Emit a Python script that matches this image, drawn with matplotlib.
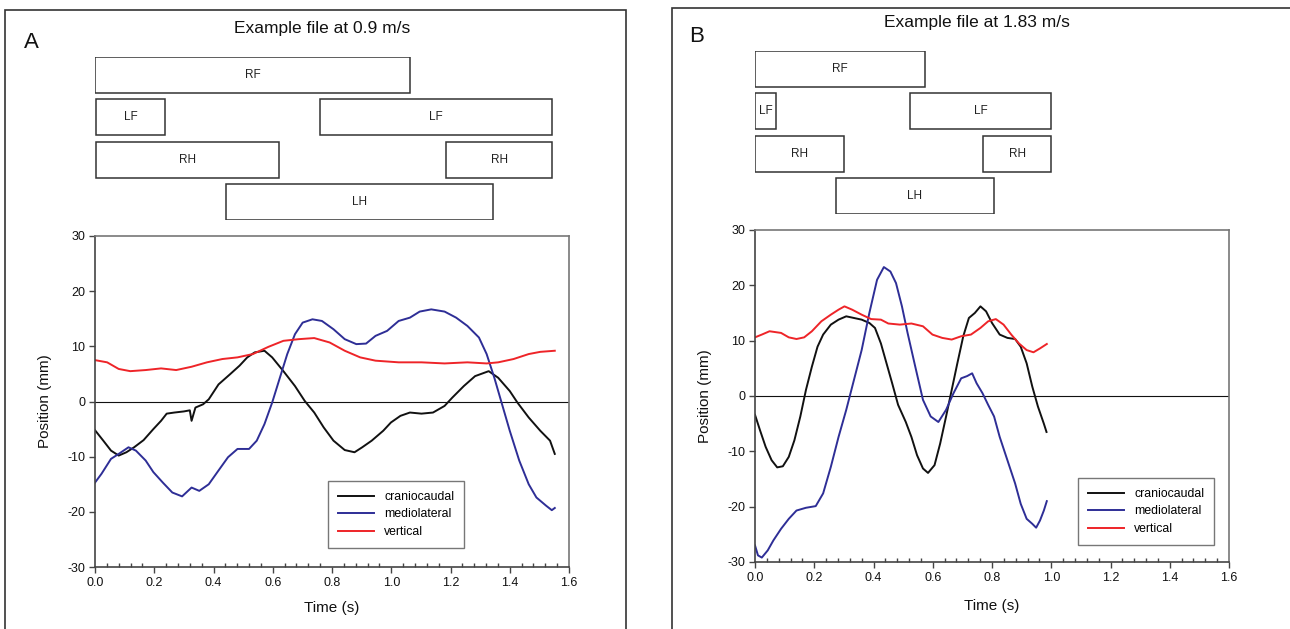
import matplotlib
matplotlib.use("Agg")
import matplotlib.pyplot as plt
from matplotlib.patches import Rectangle
from matplotlib.ticker import MultipleLocator, FormatStrFormatter

plt.rcParams['font.family'] = ['Liberation Sans', 'DejaVu Sans']
plt.rcParams['axes.unicode_minus'] = False

# ---------------- Panel A data (0.9 m/s) ----------------
a_cc_t = [0, 0.028, 0.054, 0.08, 0.106, 0.132, 0.164, 0.197, 0.223, 0.242, 0.268, 0.30, 0.32, 0.326,
          0.339, 0.365, 0.384, 0.417, 0.455, 0.488, 0.514, 0.539, 0.572, 0.598, 0.636, 0.675, 0.708,
          0.74, 0.772, 0.805, 0.843, 0.876, 0.902, 0.934, 0.973, 0.999, 1.031, 1.063, 1.102, 1.141,
          1.18, 1.206, 1.245, 1.283, 1.329, 1.361, 1.40, 1.426, 1.464, 1.503, 1.536, 1.552]
a_cc_y = [-5.2, -7.1, -8.9, -9.8, -9.2, -8.3, -7.0, -5.0, -3.5, -2.2, -2.0, -1.8, -1.6, -3.5,
          -1.1, -0.5, 0.4, 3.1, 4.9, 6.5, 8.0, 8.9, 9.2, 8.0, 5.5, 2.8, 0.1,
          -2.0, -4.7, -7.1, -8.8, -9.2, -8.3, -7.1, -5.3, -3.8, -2.6, -2.0, -2.2, -2.0,
          -0.8, 0.7, 2.8, 4.6, 5.5, 4.3, 1.9, -0.2, -2.9, -5.3, -7.1, -9.5]

a_ml_t = [0, 0.022, 0.054, 0.08, 0.113, 0.138, 0.171, 0.197, 0.229, 0.261, 0.294, 0.326, 0.352,
          0.384, 0.417, 0.449, 0.481, 0.52, 0.546, 0.572, 0.598, 0.624, 0.649, 0.675, 0.701, 0.734,
          0.766, 0.805, 0.843, 0.882, 0.915, 0.947, 0.986, 1.025, 1.063, 1.096, 1.135, 1.18, 1.219,
          1.257, 1.296, 1.322, 1.348, 1.374, 1.40, 1.432, 1.464, 1.49, 1.523, 1.542, 1.552]
a_ml_y = [-14.7, -13.1, -10.4, -9.5, -8.3, -8.9, -10.7, -12.8, -14.7, -16.5, -17.2, -15.6, -16.2,
          -15.0, -12.5, -10.1, -8.6, -8.6, -7.1, -4.1, -0.2, 4.3, 8.6, 12.2, 14.3, 14.9,
          14.6, 13.1, 11.3, 10.4, 10.5, 11.9, 12.8, 14.6, 15.2, 16.3, 16.7, 16.3, 15.2,
          13.7, 11.6, 8.6, 4.3, -0.5, -5.3, -10.7, -15.0, -17.4, -18.9, -19.7, -19.3]

a_v_t = [0, 0.041, 0.08, 0.119, 0.171, 0.223, 0.274, 0.326, 0.378, 0.43, 0.481, 0.533, 0.585,
         0.636, 0.688, 0.74, 0.792, 0.843, 0.895, 0.947, 1.025, 1.102, 1.18, 1.257, 1.322, 1.361,
         1.413, 1.464, 1.503, 1.552]
a_v_y = [7.5, 7.1, 5.9, 5.5, 5.7, 6.0, 5.7, 6.3, 7.1, 7.7, 8.0, 8.6, 9.9,
         11.0, 11.3, 11.5, 10.7, 9.2, 8.0, 7.4, 7.1, 7.1, 6.9, 7.1, 6.9, 7.1,
         7.7, 8.6, 9.0, 9.2]

# ---------------- Panel B data (1.83 m/s) ----------------
b_cc_t = [0, 0.017, 0.036, 0.056, 0.075, 0.094, 0.114, 0.133, 0.153, 0.172, 0.192, 0.211, 0.23,
          0.256, 0.282, 0.308, 0.334, 0.36, 0.386, 0.405, 0.425, 0.444, 0.463, 0.483, 0.509, 0.528,
          0.547, 0.567, 0.584, 0.606, 0.625, 0.645, 0.664, 0.683, 0.703, 0.722, 0.742, 0.761, 0.78,
          0.80, 0.826, 0.852, 0.878, 0.897, 0.917, 0.936, 0.955, 0.975, 0.984]
b_cc_y = [-3.4, -6.2, -9.2, -11.6, -12.9, -12.7, -11.0, -8.0, -3.7, 1.1, 5.3, 8.9, 11.1,
          12.9, 13.8, 14.4, 14.1, 13.8, 13.2, 12.3, 9.5, 5.9, 2.3, -1.6, -4.7, -7.4,
          -10.7, -13.1, -13.9, -12.5, -8.6, -3.7, 1.1, 5.9, 10.8, 14.1, 15.0, 16.2, 15.3,
          13.2, 11.1, 10.5, 10.3, 8.9, 5.9, 1.7, -1.9, -5.0, -6.5]

b_ml_t = [0, 0.01, 0.023, 0.043, 0.062, 0.088, 0.114, 0.14, 0.172, 0.205, 0.23, 0.256, 0.282,
          0.308, 0.334, 0.36, 0.386, 0.412, 0.435, 0.457, 0.476, 0.496, 0.515, 0.541, 0.567, 0.593,
          0.619, 0.645, 0.67, 0.696, 0.716, 0.733, 0.748, 0.768, 0.787, 0.807, 0.826, 0.852, 0.878,
          0.897, 0.917, 0.936, 0.949, 0.962, 0.975, 0.985]
b_ml_y = [-27.0, -28.8, -29.2, -27.9, -26.1, -24.0, -22.2, -20.7, -20.2, -19.9, -17.6, -12.8, -7.4,
          -2.5, 2.9, 8.3, 15.0, 21.0, 23.3, 22.5, 20.4, 16.2, 11.4, 5.3, -0.7, -3.7,
          -4.7, -2.5, 0.5, 3.2, 3.6, 4.1, 2.3, 0.5, -1.6, -3.7, -7.4, -11.6, -15.8,
          -19.5, -22.2, -23.1, -23.8, -22.5, -20.7, -19.0]

b_v_t = [0, 0.023, 0.049, 0.088, 0.114, 0.14, 0.166, 0.192, 0.224, 0.256, 0.282, 0.302, 0.328,
         0.36, 0.392, 0.425, 0.45, 0.489, 0.528, 0.567, 0.599, 0.632, 0.664, 0.696, 0.729, 0.761,
         0.787, 0.813, 0.839, 0.865, 0.891, 0.917, 0.94, 0.962, 0.985]
b_v_y = [10.6, 11.1, 11.7, 11.4, 10.6, 10.3, 10.6, 11.7, 13.5, 14.7, 15.6, 16.2, 15.6,
         14.7, 13.9, 13.8, 13.1, 12.9, 13.1, 12.6, 11.1, 10.5, 10.2, 10.8, 11.1, 12.3,
         13.5, 13.9, 12.9, 11.1, 9.5, 8.3, 7.9, 8.6, 9.4]

# ---------------- Footfall (stance) intervals, seconds ----------------
limb_rows = ['RF', 'LF', 'RH', 'LH']
a_stance = {'RF': [(0.0, 1.063)],
            'LF': [(0.003, 0.236), (0.759, 1.543)],
            'RH': [(0.003, 0.621), (1.185, 1.543)],
            'LH': [(0.442, 1.343)]}
b_stance = {'RF': [(0.0, 0.574)],
            'LF': [(0.0, 0.071), (0.523, 0.999)],
            'RH': [(0.0, 0.30), (0.77, 0.999)],
            'LH': [(0.273, 0.807)]}

series_labels = ['craniocaudal', 'mediolateral', 'vertical']
series_colors = ['#111111', '#2e2e96', '#ee2428']
x_ticks = [0.0, 0.2, 0.4, 0.6, 0.8, 1.0, 1.2, 1.4, 1.6]
y_ticks = [-30, -20, -10, 0, 10, 20, 30]

W, H = 1290, 629
fig = plt.figure(figsize=(W / 100, H / 100), dpi=100)


def fx(px):
    return px / W


def fy(py):
    return 1 - py / H


panels = [
    dict(frame=(5, 10, 626, 640), letter='A', letter_xy=(31, 43),
         title='Example file at 0.9 m/s', title_xy=(322, 29),
         ax=(95, 236, 569, 567), gait=(57, 220),
         data=[(a_cc_t, a_cc_y), (a_ml_t, a_ml_y), (a_v_t, a_v_y)],
         stance=a_stance, leg=(328, 481), ylab_x=52, xlab_y=601),
    dict(frame=(672, 8, 1300, 640), letter='B', letter_xy=(697, 37),
         title='Example file at 1.83 m/s', title_xy=(977, 22),
         ax=(755, 230, 1229, 562), gait=(51, 214),
         data=[(b_cc_t, b_cc_y), (b_ml_t, b_ml_y), (b_v_t, b_v_y)],
         stance=b_stance, leg=(1078, 478), ylab_x=712, xlab_y=599),
]

for p in panels:
    x0, y0, x1, y1 = p['frame']
    fig.patches.append(Rectangle((fx(x0), fy(y1)), fx(x1 - x0), (y1 - y0) / H,
                                 transform=fig.transFigure, fill=False,
                                 edgecolor='#333333', linewidth=1.2, zorder=0))
    fig.text(fx(p['letter_xy'][0]), fy(p['letter_xy'][1]), p['letter'],
             fontsize=16, ha='center', va='center', color='#111111')
    fig.text(fx(p['title_xy'][0]), fy(p['title_xy'][1]), p['title'],
             fontsize=12.5, ha='center', va='center', color='#111111')

    l, t, r, b = p['ax']
    ax = fig.add_axes([fx(l), fy(b), fx(r - l), (b - t) / H])
    for (tt, yy), c, lab in zip(p['data'], series_colors, series_labels):
        ax.plot(tt, yy, color=c, lw=1.4, label=lab)
    ax.axhline(0, color='#111111', lw=0.8, zorder=1)
    ax.set_xlim(0, 1.6)
    ax.set_ylim(-30, 30)
    ax.set_xticks(x_ticks)
    ax.xaxis.set_major_formatter(FormatStrFormatter('%.1f'))
    ax.xaxis.set_minor_locator(MultipleLocator(0.04))
    ax.set_yticks(y_ticks)
    ax.tick_params(axis='both', which='major', direction='out', length=4,
                   width=1, color='#444444', labelsize=9, labelcolor='#111111', pad=3)
    ax.tick_params(axis='x', which='minor', direction='in', length=3, width=1, color='#444444')
    for s in ['left', 'bottom']:
        ax.spines[s].set_color('#444444')
        ax.spines[s].set_linewidth(1.2)
    for s in ['top', 'right']:
        ax.spines[s].set_color('#777777')
        ax.spines[s].set_linewidth(1.2)
    ax.set_xlabel('Time (s)', fontsize=11, color='#111111')
    ax.xaxis.set_label_coords(0.5, (b - p['xlab_y']) / (b - t), transform=ax.transAxes)
    ax.set_ylabel('Position (mm)', fontsize=11, color='#111111')
    ax.yaxis.set_label_coords((p['ylab_x'] - l) / (r - l), 0.5, transform=ax.transAxes)

    lx, ly = p['leg']
    leg = ax.legend(loc='upper left',
                    bbox_to_anchor=((lx - l) / (r - l), (b - ly) / (b - t)),
                    fontsize=8.8, frameon=True, fancybox=False, handlelength=3.0,
                    handletextpad=0.8, labelspacing=0.45, borderpad=0.8,
                    borderaxespad=0, edgecolor='#555555')
    leg.get_frame().set_linewidth(1.0)

    g0, g1 = p['gait']
    gax = fig.add_axes([fx(l), fy(g1), fx(r - l), (g1 - g0) / H])
    gax.set_xlim(0, 1.6)
    gax.set_ylim(3.85, 0)
    gax.axis('off')
    for i, limb in enumerate(limb_rows):
        for (s, e) in p['stance'][limb]:
            gax.add_patch(Rectangle((s, i), e - s, 0.85, fill=False,
                                    edgecolor='#333333', linewidth=1.1))
            gax.text((s + e) / 2, i + 0.425, limb, ha='center', va='center',
                     fontsize=8.5, color='#222222')

fig.savefig('out.png', dpi=100)
